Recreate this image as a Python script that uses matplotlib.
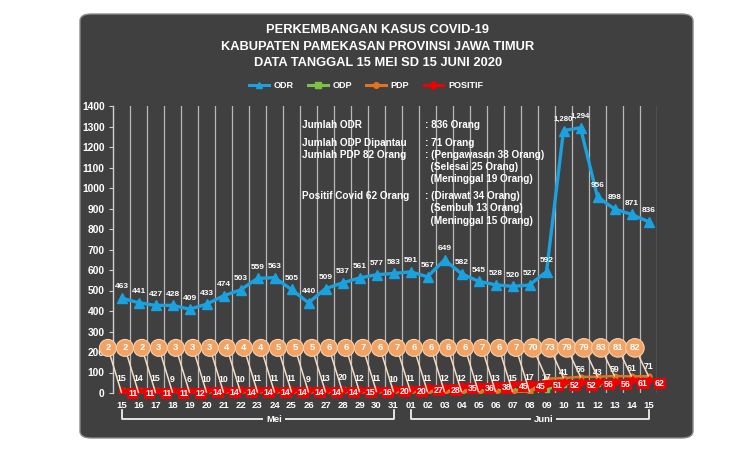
import matplotlib
matplotlib.use("Agg")
import matplotlib.pyplot as plt
from matplotlib.patches import FancyBboxPatch
from matplotlib.lines import Line2D
import matplotlib.transforms as mtransforms

plt.rcParams['font.family'] = ['Liberation Sans', 'DejaVu Sans']

# ---------------- data ----------------
dates = ["15", "16", "17", "18", "19", "20", "21", "22", "23", "24", "25", "26", "27", "28", "29", "30", "31",
         "01", "02", "03", "04", "05", "06", "07", "08", "09", "10", "11", "12", "13", "14", "15"]
months = ["Mei", "Juni"]
month_len = [17, 15]

odr = [463, 441, 427, 428, 409, 433, 474, 503, 559, 563, 505, 440, 509, 537, 561, 577, 583,
       591, 567, 649, 582, 545, 528, 520, 527, 592, 1280, 1294, 956, 898, 871, 836]
odp = [15, 14, 15, 9, 6, 10, 10, 10, 11, 11, 11, 9, 13, 20, 12, 11, 10,
       11, 11, 12, 12, 12, 13, 15, 17, 17, 41, 56, 43, 59, 61, 71]
pdp = [2, 2, 2, 3, 3, 3, 3, 4, 4, 4, 5, 5, 5, 6, 6, 7, 6,
       7, 6, 6, 6, 6, 7, 6, 7, 70, 73, 79, 79, 83, 81, 82]
positif = [11, 11, 11, 11, 12, 14, 14, 14, 14, 14, 14, 14, 14, 14, 15, 16,
           20, 20, 27, 28, 35, 36, 38, 45, 45, 51, 52, 52, 56, 56, 61, 62]
yticks = [0, 100, 200, 300, 400, 500, 600, 700, 800, 900, 1000, 1100, 1200, 1300, 1400]

title_lines = ["PERKEMBANGAN KASUS COVID-19",
               "KABUPATEN PAMEKASAN PROVINSI JAWA TIMUR",
               "DATA TANGGAL 15 MEI SD 15 JUNI 2020"]
info_left = ["Jumlah ODR", "Jumlah ODP Dipantau", "Jumlah PDP 82 Orang", "", "", "Positif Covid 62 Orang", "", ""]
info_right = [": 836 Orang", ": 71 Orang", ": (Pengawasan 38 Orang)", "  (Selesai 25 Orang)",
              "  (Meninggal 19 Orang)", ": (Dirawat 34 Orang)", "  (Sembuh 13 Orang)", "  (Meninggal 15 Orang)"]

# ---------------- style ----------------
PANEL = '#404040'
C_ODR = '#1BA1DE'
C_ODP = '#7DC242'
C_PDP = '#E3731F'
C_POS = '#F00000'
C_CALL = '#F2A262'
WHITE = 'white'

W, H = 750, 451
fig = plt.figure(figsize=(W / 100, H / 100), dpi=100)
fig.patch.set_facecolor('white')

panel = FancyBboxPatch((80 / W, 13 / H), 613 / W, 424 / H,
                       boxstyle="round,pad=0,rounding_size=0.015",
                       transform=fig.transFigure, facecolor=PANEL,
                       edgecolor='#8a8a8a', linewidth=1.0, zorder=-10)
fig.patches.append(panel)

ax = fig.add_axes([113 / W, 58 / H, 544 / W, 287 / H])
ax.set_facecolor('none')
ax.set_zorder(1)
n = len(dates)
x = list(range(n))
ax.set_xlim(-0.5, n - 0.5)
ax.set_ylim(0, 1400)

# vertical gridlines at category boundaries
for b in range(1, n + 1):
    ax.axvline(b - 0.5, color='#b8b8b8', lw=0.9, zorder=1)
for s in ['top', 'right', 'bottom']:
    ax.spines[s].set_visible(False)
ax.spines['left'].set_color('#d0d0d0')
ax.spines['left'].set_linewidth(1.0)

ax.set_yticks(yticks)
ax.set_yticklabels([str(v) for v in yticks])
ax.tick_params(axis='y', colors='#d0d0d0', labelcolor=WHITE, labelsize=7.4, length=3, width=0.8, pad=3)
for lab in ax.get_yticklabels():
    lab.set_fontweight('bold')
ax.set_xticks(x)
ax.set_xticklabels(dates)
ax.tick_params(axis='x', length=0, labelcolor=WHITE, labelsize=6.8, pad=6)
for lab in ax.get_xticklabels():
    lab.set_fontweight('bold')

# series
ax.plot(x, odp, color=C_ODP, lw=1.8, marker='s', ms=3.5, zorder=3)
ax.plot(x, pdp, color=C_PDP, lw=1.8, marker='o', ms=3.5, zorder=3)
ax.plot(x, positif, color=C_POS, lw=3.0, marker='D', ms=4, zorder=4)
ax.plot(x, odr, color=C_ODR, lw=2.4, marker='^', ms=6.5, zorder=5)

# labels ODR
for i, v in enumerate(odr):
    big = v >= 1000
    ax.annotate(f"{v:,}", (i, v), xytext=(0, 8), textcoords='offset points',
                ha='center', va='center', color=WHITE, fontsize=5.6 if big else 6,
                fontweight='bold', zorder=6)
# labels ODP
for i, v in enumerate(odp):
    ax.annotate(str(v), (i, v), xytext=(0, 8.5), textcoords='offset points',
                ha='center', va='center', color=WHITE, fontsize=6.3, fontweight='bold', zorder=6)
# labels positif (red boxes, right of the points)
for i, v in enumerate(positif):
    ax.annotate(str(v), (i, v), xytext=(8, -2), textcoords='offset points',
                ha='center', va='center', color=WHITE, fontsize=6.3, fontweight='bold', zorder=7,
                bbox=dict(boxstyle='square,pad=0.12', fc=C_POS, ec='none'))
# PDP callouts
for i, v in enumerate(pdp):
    ax.annotate(str(v), (i, v), xytext=(i - 0.8, 220), textcoords='data',
                ha='center', va='center', color=WHITE, fontsize=6.8, fontweight='bold', zorder=8,
                bbox=dict(boxstyle='circle,pad=0.42', fc=C_CALL, ec='#f7d2b0', lw=0.8),
                arrowprops=dict(arrowstyle='-', color='#f5dcc4', lw=1.1, shrinkA=0, shrinkB=0))

# month brackets under the axis
trans = mtransforms.blended_transform_factory(ax.transData, ax.transAxes)
start = 0
for m, ln in zip(months, month_len):
    x0, x1 = start, start + ln - 1
    ax.plot([x0, x0, x1, x1], [-0.06, -0.092, -0.092, -0.06], color=WHITE, lw=1.2,
            transform=trans, clip_on=False, zorder=2)
    ax.text(x0 + (ln - 1) * 0.56, -0.092, m, transform=trans, ha='center', va='center',
            color=WHITE, fontsize=6.8, fontweight='bold', zorder=3,
            bbox=dict(boxstyle='square,pad=0.3', fc=PANEL, ec='none'))
    start += ln

# title
for k, t in enumerate(title_lines):
    fig.text(378 / W, 1 - (30 + 16.5 * k) / H, t, ha='center', va='center', color=WHITE,
             fontsize=9.3, fontweight='bold')

# legend
handles = [Line2D([0], [0], color=C_ODR, lw=2.2, marker='^', ms=5),
           Line2D([0], [0], color=C_ODP, lw=2.2, marker='s', ms=4),
           Line2D([0], [0], color=C_PDP, lw=2.2, marker='o', ms=4),
           Line2D([0], [0], color=C_POS, lw=2.2, marker='D', ms=4)]
leg = fig.legend(handles, ["ODR", "ODP", "PDP", "POSITIF"], loc='center', ncol=4,
                 bbox_to_anchor=(366 / W, 1 - 86 / H), frameon=False, fontsize=6.5,
                 handlelength=2.2, columnspacing=1.6, handletextpad=0.5)
for t in leg.get_texts():
    t.set_color(WHITE)
    t.set_fontweight('bold')

# info block
ys = [125, 143, 155, 167, 179, 196, 208, 221]
for yy, l, r in zip(ys, info_left, info_right):
    if l:
        fig.text(302 / W, 1 - yy / H, l, ha='left', va='center', color=WHITE, fontsize=7.2,
                 fontweight='bold', zorder=5)
    fig.text(425 / W, 1 - yy / H, r, ha='left', va='center', color=WHITE, fontsize=7.2,
             fontweight='bold', zorder=5)

fig.savefig("out.png", dpi=100, facecolor='white')
